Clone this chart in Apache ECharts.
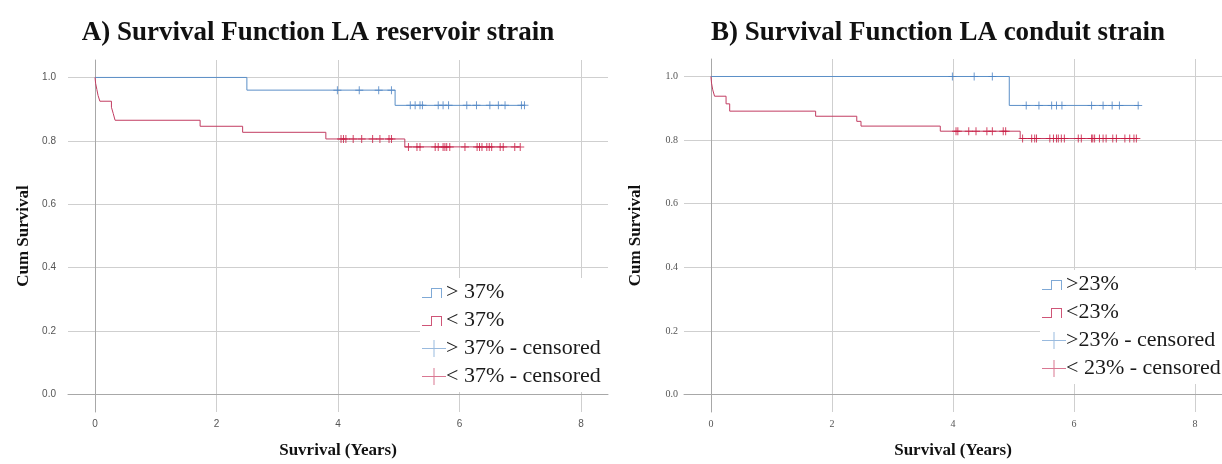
<!DOCTYPE html>
<html>
<head>
<meta charset="utf-8">
<script src="https://cdn.jsdelivr.net/npm/echarts@6/dist/echarts.min.js"></script>
<style>
html,body{margin:0;padding:0;background:#fff;}
#chart{width:1222px;height:464px;}
</style>
</head>
<body>
<div id="chart"></div>
<script>
// ---------- DATA ----------
// Panel A: LA reservoir strain
var aHighEventTimes = [0, 2.50, 4.94, 7.07];
var aHighEventSurv  = [1.0, 0.960, 0.912, 0.912];
var aHighCensored   = [3.99, 4.35, 4.67, 4.88, 5.19, 5.27, 5.35, 5.39, 5.65, 5.73, 5.82, 6.12, 6.28, 6.50, 6.64, 6.75, 7.02, 7.07];
var aLowEventTimes  = [0, 0.01, 0.03, 0.05, 0.08, 0.27, 0.30, 0.33, 1.73, 2.43, 3.80, 5.10, 7.00];
var aLowEventSurv   = [1.0, 0.981, 0.962, 0.943, 0.925, 0.906, 0.886, 0.865, 0.846, 0.827, 0.806, 0.781, 0.781];
var aLowCensored    = [4.05, 4.09, 4.13, 4.25, 4.39, 4.57, 4.69, 4.84, 4.88, 5.16, 5.30, 5.35, 5.60, 5.65, 5.73, 5.76, 5.79, 5.84, 6.09, 6.29, 6.33, 6.37, 6.45, 6.49, 6.53, 6.67, 6.72, 6.91, 7.00];
// Panel B: LA conduit strain
var bHighEventTimes = [0, 4.93, 7.08];
var bHighEventSurv  = [1.0, 0.909, 0.909];
var bHighCensored   = [3.99, 4.35, 4.65, 5.21, 5.42, 5.63, 5.71, 5.80, 6.29, 6.48, 6.63, 6.75, 7.06];
var bLowEventTimes  = [0, 0.01, 0.03, 0.06, 0.25, 0.31, 1.73, 2.41, 2.48, 3.79, 5.11, 7.04];
var bLowEventSurv   = [1.0, 0.979, 0.958, 0.938, 0.914, 0.891, 0.875, 0.859, 0.844, 0.828, 0.805, 0.805];
var bLowCensored    = [4.05, 4.08, 4.26, 4.38, 4.56, 4.65, 4.83, 4.87, 5.15, 5.30, 5.35, 5.38, 5.60, 5.66, 5.71, 5.74, 5.79, 5.84, 6.07, 6.12, 6.29, 6.31, 6.34, 6.42, 6.48, 6.53, 6.64, 6.70, 6.84, 6.92, 6.99, 7.03];

var xTicks = [0, 2, 4, 6, 8];
var yTicks = [0, 0.2, 0.4, 0.6, 0.8, 1.0];

var titleA = 'A) Survival Function LA reservoir strain';
var titleB = 'B) Survival Function LA conduit strain';
var xNameA = 'Suvrival (Years)';
var xNameB = 'Survival (Years)';
var yName  = 'Cum Survival';
var namesA = ['> 37%', '< 37%', '> 37% - censored', '< 37% - censored'];
var namesB = ['>23%', '<23%', '>23% - censored', '< 23% - censored'];

// ---------- helpers ----------
function pairs(t, s) { return t.map(function (v, i) { return [v, s[i]]; }); }
function survAt(t, times, surv) {
  var v = surv[0];
  for (var i = 0; i < times.length; i++) { if (times[i] <= t) v = surv[i]; }
  return v;
}
function censorPts(c, times, surv) { return c.map(function (t) { return [t, survAt(t, times, surv)]; }); }

var BLUE_LINE = '#5b8fc7', BLUE_MARK = '#4b82c3';
var RED_LINE = '#c23d62', RED_MARK = '#c8173f';
var BLUE_ICON = '#7fa9d6', RED_ICON = '#cf5577';

var STEP_ICON = 'path://M0,0h0.001v0.001h-0.001z M23.999,17.999h0.001v0.001h-0.001z M0,14h10v1h-10z M9,5h1v10h-1z M9,5h11v1h-11z M19,5h1v10h-1z';
var PLUS_ICON = 'path://M0,0h0.001v0.001h-0.001z M23.999,17.999h0.001v0.001h-0.001z M0,9h24v1h-24z M11.5,1h1v17h-1z';
var CENSOR_SYM = 'path://M0,3.5h8v1h-8z M3.5,0h1v8h-1z';

var SERIF = '"Liberation Serif", "DejaVu Serif", serif';

function xAxis(gi, name, labFont) {
  return {
    type: 'value', gridIndex: gi, min: -0.445, max: 8.445,
    name: name, nameLocation: 'middle', nameGap: 30,
    nameTextStyle: { fontFamily: SERIF, fontWeight: 'bold', fontSize: 17, color: '#111' },
    axisLine: { show: true, lineStyle: { color: '#a8a8a8', width: 1 } },
    axisTick: { show: false, customValues: xTicks },
    axisLabel: { customValues: xTicks, fontSize: 10, color: '#555', margin: 7, fontFamily: labFont },
    splitLine: { show: true, lineStyle: { color: '#cfcfcf', width: 1 } }
  };
}
function yAxis(gi, labFont, margin, gap) {
  return {
    type: 'value', gridIndex: gi, min: -0.055, max: 1.055,
    name: yName, nameLocation: 'middle', nameGap: gap,
    nameTextStyle: { fontFamily: SERIF, fontWeight: 'bold', fontSize: 17, color: '#111' },
    axisLine: { show: true, lineStyle: { color: '#a8a8a8', width: 1 } },
    axisTick: { show: false, customValues: yTicks },
    axisLabel: { customValues: yTicks, fontSize: 10, color: '#555', margin: margin, fontFamily: labFont,
      formatter: function (v) { return v.toFixed(1); } },
    splitLine: { show: true, lineStyle: { color: '#cfcfcf', width: 1 } }
  };
}
function stepSeries(name, gi, times, surv, color) {
  return { name: name, type: 'line', step: 'end', xAxisIndex: gi, yAxisIndex: gi,
    data: pairs(times, surv), showSymbol: false, symbol: 'none',
    lineStyle: { color: color, width: 1 }, itemStyle: { color: color }, animation: false, z: 3 };
}
function censorSeries(name, gi, c, times, surv, color) {
  return { name: name, type: 'scatter', xAxisIndex: gi, yAxisIndex: gi,
    data: censorPts(c, times, surv), symbol: CENSOR_SYM, symbolSize: [8, 8],
    itemStyle: { color: color }, animation: false, z: 4 };
}
function legendData(names) {
  return [
    { name: names[0], icon: STEP_ICON, itemStyle: { color: BLUE_ICON } },
    { name: names[1], icon: STEP_ICON, itemStyle: { color: RED_ICON } },
    { name: names[2], icon: PLUS_ICON, itemStyle: { color: BLUE_ICON } },
    { name: names[3], icon: PLUS_ICON, itemStyle: { color: RED_ICON } }
  ];
}
function legend(left, top, names) {
  return {
    orient: 'vertical', left: left, top: top, data: legendData(names),
    itemWidth: 24, itemHeight: 18, itemGap: 6, backgroundColor: '#fff',
    padding: [3, 8, 5, 2], selectedMode: false,
    textStyle: { fontFamily: SERIF, fontSize: 22, color: '#1a1a1a', padding: [0, 0, 0, -5] }
  };
}

var chart = echarts.init(document.getElementById('chart'), null, { renderer: 'canvas' });
chart.setOption({
  backgroundColor: '#fff',
  animation: false,
  title: [
    { text: titleA, left: 318, top: 20, textAlign: 'center', padding: 0,
      textStyle: { fontFamily: SERIF, fontWeight: 'bold', fontSize: 27, color: '#111' } },
    { text: titleB, left: 938, top: 20, textAlign: 'center', padding: 0,
      textStyle: { fontFamily: SERIF, fontWeight: 'bold', fontSize: 27, color: '#111' } }
  ],
  grid: [
    { left: 68, top: 60, width: 540, height: 353 },
    { left: 684, top: 59, width: 540, height: 354.5 }
  ],
  xAxis: [xAxis(0, xNameA, 'Liberation Sans, Arial, sans-serif'), xAxis(1, xNameB, SERIF)],
  yAxis: [yAxis(0, 'Liberation Sans, Arial, sans-serif', 12, 36), yAxis(1, SERIF, 6, 40)],
  legend: [legend(420, 278, namesA), legend(1040, 270, namesB)],
  series: [
    stepSeries(namesA[0], 0, aHighEventTimes, aHighEventSurv, BLUE_LINE),
    stepSeries(namesA[1], 0, aLowEventTimes, aLowEventSurv, RED_LINE),
    censorSeries(namesA[2], 0, aHighCensored, aHighEventTimes, aHighEventSurv, BLUE_MARK),
    censorSeries(namesA[3], 0, aLowCensored, aLowEventTimes, aLowEventSurv, RED_MARK),
    stepSeries(namesB[0], 1, bHighEventTimes, bHighEventSurv, BLUE_LINE),
    stepSeries(namesB[1], 1, bLowEventTimes, bLowEventSurv, RED_LINE),
    censorSeries(namesB[2], 1, bHighCensored, bHighEventTimes, bHighEventSurv, BLUE_MARK),
    censorSeries(namesB[3], 1, bLowCensored, bLowEventTimes, bLowEventSurv, RED_MARK)
  ]
});
</script>
</body>
</html>
